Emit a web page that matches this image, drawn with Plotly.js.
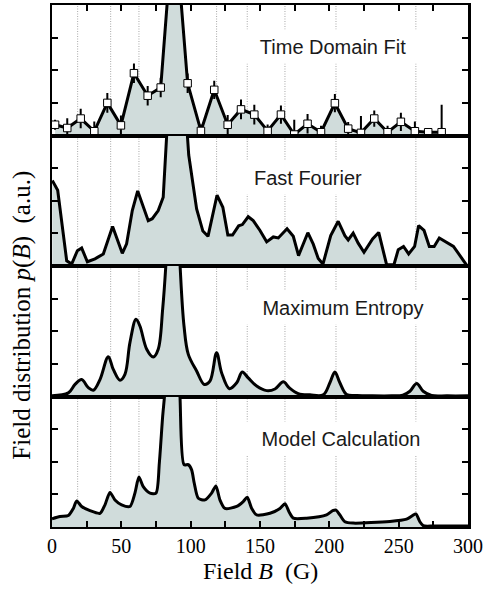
<!DOCTYPE html>
<html>
<head>
<meta charset="utf-8">
<script src="https://cdn.plot.ly/plotly-3.0.1.min.js"></script>
<style>
  html, body { margin: 0; padding: 0; background: #ffffff; }
  #chart { width: 485px; height: 590px; }
</style>
</head>
<body>
<div id="chart"></div>
<script>
// Field distributions p(B) obtained by four methods, common field axis B (G)

// Time domain fit: fitted amplitudes with uncertainties
const tdField = [2.2, 11, 20.7, 30.5, 39.9, 49.7, 59.1, 69, 78.4, 88, 97.8, 107.4, 117, 126.7, 136.3,
                 145.9, 155.5, 165.1, 174.7, 184.3, 194, 204, 213.6, 222.8, 232.4, 242, 251.6, 261.7, 271.3, 281];
const tdValue = [0.33, 0.23, 0.52, 0.13, 1.0, 0.31, 1.91, 1.22, 1.47, 6.8, 1.6, 0.14, 1.40, 0.33, 0.80,
                 0.64, 0.14, 0.64, 0.03, 0.36, 0.10, 0.99, 0.21, 0.08, 0.52, 0.10, 0.42, 0.13, 0.10, 0.10];
const tdError = [0.15, 0.3, 0.3, 0.3, 0.3, 0.3, 0.3, 0.3, 0.3, 0.3, 0.3, 0.2, 0.28, 0.3, 0.3,
                 0.3, 0.2, 0.28, 0.45, 0.3, 0.2, 0.28, 0.2, 0.52, 0.25, 0.2, 0.28, 0.3, 0.1, 0.84];

// Fast Fourier transform
const fftField = [0.2, 4.1, 10.6, 14.2, 18.3, 21.4, 25.5, 31, 37, 43.7, 50.7, 53.8, 57.9, 61.8, 69.4, 72.3,
                  76.6, 80.2, 86, 92, 98.6, 104.3, 108.8, 112.5, 119, 123.2, 126.8, 130.2, 134.6, 137.3,
                  141.5, 145.1, 150, 154.8, 159.6, 163.2, 169.5, 174, 177.8, 184.5, 188.4, 192, 195.4,
                  201, 206.4, 211.2, 213.6, 217.2, 220.8, 225, 231.2, 235.6, 241.3, 246.6, 249.7, 253.5,
                  257.2, 261.5, 264.4, 268.3, 272.1, 275.6, 279.3, 283.3, 289.5, 294.2, 299];
const fftValue = [2.62, 2.32, 0.16, 0.06, 0.47, 0.55, 0.13, 0.22, 0.37, 1.21, 0.39, 0.68, 1.70, 2.30, 1.39, 1.45,
                  1.70, 2.11, 6.5, 7.5, 3.4, 1.75, 1.07, 0.91, 2.17, 1.80, 0.95, 0.95, 1.23, 1.27,
                  1.51, 1.39, 1.09, 0.74, 0.89, 0.86, 1.14, 0.91, 0.32, 1.02, 0.67, 0.23, 0.06,
                  0.93, 1.37, 0.93, 0.80, 1.01, 0.70, 0.42, 0.83, 1.03, 0.04, 0.04, 0.50, 0.60,
                  0.37, 0.60, 1.24, 1.09, 0.60, 0.60, 0.86, 0.76, 0.60, 0.32, 0.03];

// Maximum entropy reconstruction
const meField = [0, 11.8, 16.6, 21.4, 26.2, 29.8, 34.6, 40.6, 44.2, 49, 52.6, 56.2, 60.6, 63.4, 68.3, 73,
                 76.6, 79.8, 82.5, 85, 87.5, 90, 92.5, 95.2, 98.3, 104.3, 109.8, 113.9, 118.7, 122.3,
                 127.9, 133.2, 137.2, 141.5, 147.6, 154.8, 160.8, 166.8, 171.1, 177.6, 186, 195.6, 200.4,
                 204, 207.6, 212.5, 220, 231, 245, 253, 258.1, 263, 267.7, 273.7, 285, 300];
const meValue = [0.02, 0.11, 0.37, 0.52, 0.27, 0.19, 0.52, 1.22, 0.83, 0.50, 0.68, 1.65, 2.37, 2.16, 1.45, 1.21,
                 1.45, 2.68, 4.3, 6.5, 7.5, 6.5, 3.9, 2.16, 1.29, 0.78, 0.37, 0.47, 1.34, 0.73,
                 0.24, 0.42, 0.75, 0.57, 0.32, 0.18, 0.23, 0.45, 0.27, 0.09, 0.05, 0.05, 0.42,
                 0.75, 0.42, 0.06, 0.03, 0.02, 0.02, 0.04, 0.16, 0.40, 0.16, 0.03, 0.02, 0.02];

// Model calculation
const mcField = [0, 5.8, 11.8, 15.4, 17.8, 21.4, 27.4, 34.6, 38.2, 41.8, 45.4, 50.2, 56.2, 59.8, 62.7, 65.8,
                 70.7, 75, 77.4, 79.8, 81.5, 84, 87, 90, 92.3, 95.2, 98.3, 100.7, 102.6, 105.5, 110.3,
                 115.1, 118.2, 121.1, 124.7, 133.2, 137.9, 140.8, 144, 147.6, 157.2, 164.4, 168, 171.1,
                 174, 183.6, 198, 202.4, 204.8, 207.6, 211.2, 217.2, 243.7, 255.7, 260, 262.4, 265.3, 267.7,
                 275, 287, 300];
const mcValue = [0.25, 0.32, 0.35, 0.57, 0.80, 0.63, 0.50, 0.42, 0.68, 1.06, 0.83, 0.68, 0.63, 1.04, 1.53, 1.24,
                 1.04, 1.04, 1.96, 3.39, 4.2, 6.5, 7.5, 6.5, 4.0, 1.91, 1.91, 1.75, 1.34, 0.88, 0.83,
                 1.04, 1.26, 0.83, 0.57, 0.63, 0.78, 0.91, 0.57, 0.37, 0.42, 0.57, 0.71, 0.45,
                 0.27, 0.27, 0.37, 0.50, 0.52, 0.37, 0.16, 0.12, 0.17, 0.24, 0.35, 0.40, 0.16, 0.04,
                 0.03, 0.03, 0.03];

// Reference field positions marked by dotted guides
const guideFields = [18.5, 42.3, 62.7, 118.7, 140.8, 168, 204.8, 262.4];

// Panel labels and axis ticks
const panelNames = ['Time Domain Fit', 'Fast Fourier', 'Maximum Entropy', 'Model Calculation'];
const panelLabelField = [202.8, 184.4, 210, 208.2];
const xTickVals = [0, 25, 50, 75, 100, 125, 150, 175, 200, 225, 250, 275, 300];
const xTickText = ['0', '', '50', '', '100', '', '150', '', '200', '', '250', '', '300'];

const FILL = '#d0dcdb';
const INK = '#000000';
const SERIF = 'Liberation Serif, Times New Roman, serif';
const SANS = 'Liberation Sans, Arial, sans-serif';

function areaTrace(x, y, xa, ya, extra) {
  return Object.assign({
    x: x, y: y, xaxis: xa, yaxis: ya,
    type: 'scatter', mode: 'lines',
    line: { color: INK, width: 3, shape: 'linear' },
    fill: 'tozeroy', fillcolor: FILL,
    hoverinfo: 'skip', showlegend: false
  }, extra || {});
}

const traces = [
  areaTrace(tdField, tdValue, 'x', 'y', {
    error_y: { type: 'data', array: tdError, visible: true, color: INK, thickness: 2, width: 0 }
  }),
  {
    x: tdField, y: tdValue, xaxis: 'x', yaxis: 'y',
    type: 'scatter', mode: 'markers',
    marker: { symbol: 'square', size: 7.5, color: '#ffffff', line: { color: INK, width: 1 } },
    hoverinfo: 'skip', showlegend: false
  },
  areaTrace(fftField, fftValue, 'x2', 'y2'),
  areaTrace(meField, meValue, 'x3', 'y3', { line: { color: INK, width: 3, shape: 'spline', smoothing: 1 } }),
  areaTrace(mcField, mcValue, 'x4', 'y4', { line: { color: INK, width: 3, shape: 'spline', smoothing: 0.7 } })
];

function xAxis(anchor, opts) {
  return Object.assign({
    anchor: anchor, range: [0, 300], showgrid: false, zeroline: false,
    showline: true, linecolor: INK, linewidth: 2, mirror: true,
    ticks: '', showticklabels: false, fixedrange: true
  }, opts || {});
}
function yAxis(domain) {
  return {
    domain: domain, range: [0, 4], showgrid: false, zeroline: false,
    showline: true, linecolor: INK, linewidth: 2.5, mirror: 'ticks',
    ticks: 'inside', tickvals: [1, 2, 3], ticklen: 6, tickwidth: 2, tickcolor: INK,
    showticklabels: false, fixedrange: true
  };
}

const shapes = guideFields.map(b => ({
  type: 'line', xref: 'x4', yref: 'paper', x0: b, x1: b, y0: 0, y1: 1,
  layer: 'below', line: { color: '#a8a8a8', width: 1, dash: '1px,1.5px' }
}));

const labelWidths = [176, 138, 196, 194];
const annotations = panelNames.map((name, i) => ({
  text: name, xref: i === 0 ? 'x' : 'x' + (i + 1), yref: i === 0 ? 'y' : 'y' + (i + 1),
  x: panelLabelField[i], y: 2.72, xanchor: 'center', yanchor: 'middle',
  showarrow: false, bgcolor: '#ffffff', borderpad: 0, width: labelWidths[i], height: 33,
  font: { family: SANS, size: 20, color: '#1a1a1a' }
}));
annotations.push({
  text: 'Field distribution <i>p</i>(<i>B</i>)\u00a0\u00a0(a.u.)',
  xref: 'paper', yref: 'paper', x: -0.072, y: 0.405, xanchor: 'center', yanchor: 'middle',
  textangle: -90, showarrow: false, font: { family: SERIF, size: 25, color: INK }
});
annotations.push({
  text: 'Field <i>B</i>\u00a0\u00a0(G)',
  xref: 'paper', yref: 'paper', x: 0.5, y: -0.084, xanchor: 'center', yanchor: 'middle',
  showarrow: false, font: { family: SERIF, size: 24, color: INK }
});

const layout = {
  width: 485, height: 590,
  margin: { l: 52, r: 17, t: 5, b: 63 },
  paper_bgcolor: '#ffffff', plot_bgcolor: 'rgba(0,0,0,0)',
  showlegend: false,
  xaxis: xAxis('y', { side: 'top', ticks: 'inside', tickvals: xTickVals, ticklen: 6, tickwidth: 2, tickcolor: INK }),
  xaxis2: xAxis('y2', { matches: 'x' }),
  xaxis3: xAxis('y3', { matches: 'x' }),
  xaxis4: xAxis('y4', {
    matches: 'x', side: 'bottom', ticks: 'inside', tickvals: xTickVals, ticktext: xTickText,
    ticklen: 6, tickwidth: 2, tickcolor: INK, showticklabels: true,
    tickfont: { family: SERIF, size: 20, color: INK }
  }),
  yaxis: yAxis([0.75, 1]),
  yaxis2: yAxis([0.5, 0.75]),
  yaxis3: yAxis([0.25, 0.5]),
  yaxis4: yAxis([0, 0.25]),
  shapes: shapes,
  annotations: annotations
};

Plotly.newPlot('chart', traces, layout, { displayModeBar: false, staticPlot: true });
</script>
</body>
</html>
